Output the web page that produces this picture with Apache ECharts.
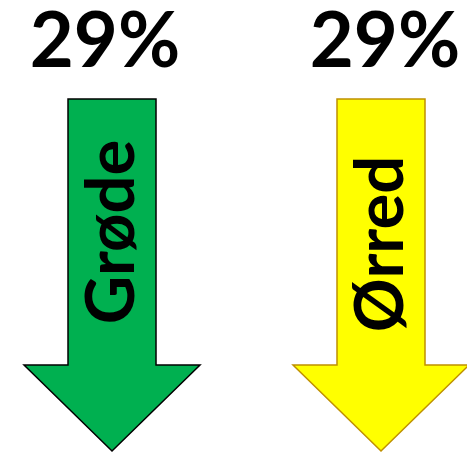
<!DOCTYPE html>
<html>
<head>
<meta charset="utf-8">
<script src="https://cdn.jsdelivr.net/npm/echarts@6/dist/echarts.min.js"></script>
<style>
  html, body { margin: 0; padding: 0; background: #fff; }
  #chart { width: 467px; height: 453px; }
</style>
</head>
<body>
<div id="chart"></div>
<script>
// data
const categories = ["Grøde", "Ørred"];
const declines = [29, 29];

const fills = ["#00B050", "#FFFF00"];
const borders = ["#000000", "#BF9000"];
const pctShift = [-7, 4];   // horizontal nudge of the % labels
const nameShift = [0, 12];  // vertical nudge of the rotated names

const chart = echarts.init(document.getElementById("chart"));

const renderArrow = (params, api) => {
    const i = params.dataIndex;
    const top = api.coord([api.value(0), 0]);
    const bot = api.coord([api.value(0), api.value(1)]);
    const cx = top[0];
    const shaft = 44, head = 88;
    const headY = bot[1] - 86;
    const pts = [
        [cx - shaft, top[1]], [cx + shaft, top[1]], [cx + shaft, headY],
        [cx + head, headY], [cx, bot[1]], [cx - head, headY], [cx - shaft, headY],
    ];
    return {
        type: "group",
        children: [
            {
                type: "polygon",
                shape: { points: pts },
                style: { fill: fills[i], stroke: borders[i], lineWidth: 1.5 },
            },
            {
                type: "text",
                x: cx + pctShift[i],
                y: top[1] - 57,
                style: {
                    text: api.value(1) + "%",
                    font: "bold 76px Lato, 'Open Sans', sans-serif",
                    fill: "#000",
                    align: "center",
                    verticalAlign: "middle",
                },
            },
            {
                type: "text",
                x: cx,
                y: (top[1] + headY) / 2 + nameShift[i],
                rotation: Math.PI / 2,
                style: {
                    text: categories[i],
                    font: "bold 67px Lato, 'Open Sans', sans-serif",
                    fill: "#000",
                    align: "center",
                    verticalAlign: "middle",
                },
            },
        ],
    };
};

const option = {
    animation: false,
    grid: { left: 0, right: 0, top: 99, height: 352 },
    // category slots sit 269px apart, first one at x=112
    xAxis: { type: "value", min: -0.4164, max: 1.3197, show: false },
    yAxis: { type: "value", inverse: true, min: 0, max: 29, show: false },
    series: [
        {
            type: "custom",
            renderItem: renderArrow,
            encode: { x: 0, y: 1 },
            data: declines.map((v, i) => [i, v]),
        },
    ],
};
chart.setOption(option);
</script>
</body>
</html>
